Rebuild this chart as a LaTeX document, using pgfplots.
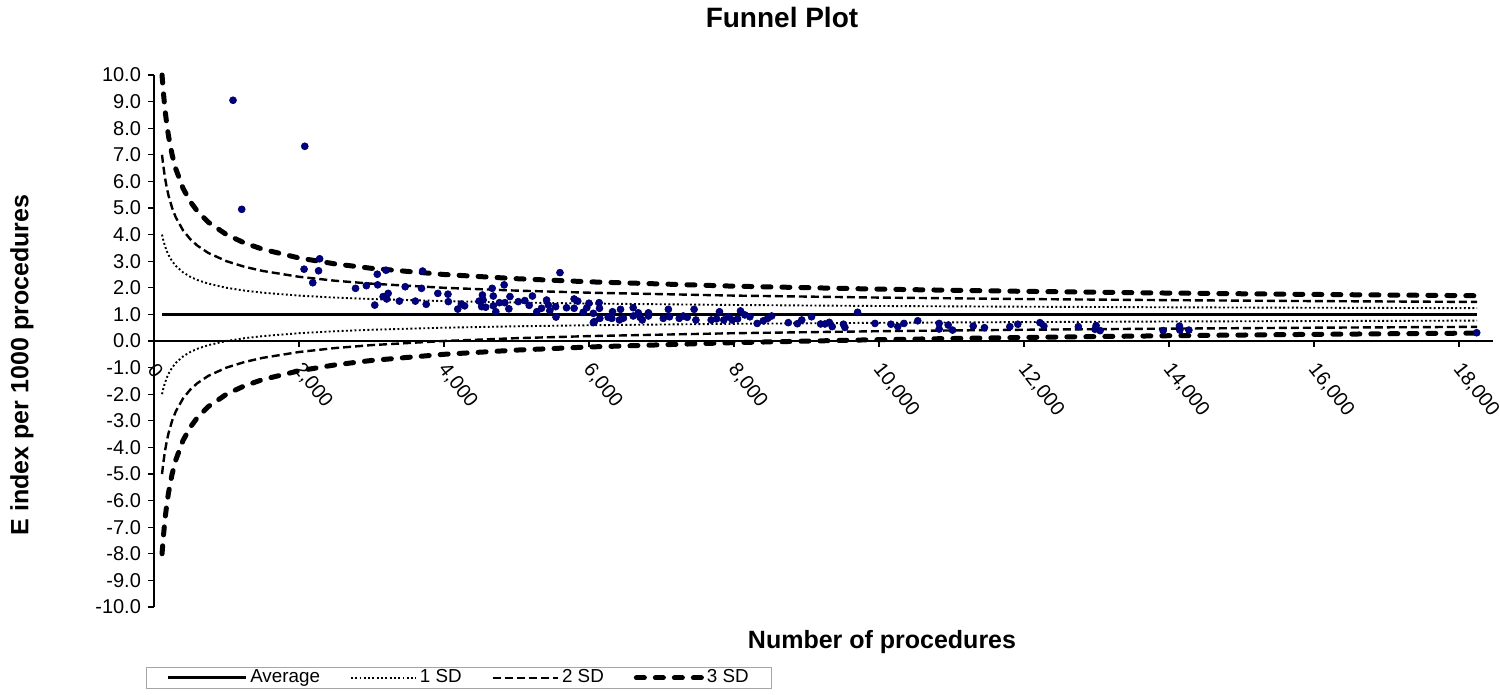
\documentclass[border=0pt]{standalone}
\usepackage{pgfplots}
\pgfplotsset{compat=1.18}
\usepackage{pgfplotstable}
\usepackage{fontspec}
\setmainfont{Liberation Sans}
\definecolor{navyd}{RGB}{0,0,128}

\pgfplotstableread{
n u1 l1 u2 l2 u3 l3
111 4.000 -2.000 7.000 -5.000 10.000 -8.000
125 3.828 -1.828 6.657 -4.657 9.485 -7.485
150 3.582 -1.582 6.164 -4.164 8.746 -6.746
175 3.390 -1.390 5.781 -3.781 8.171 -6.171
200 3.236 -1.236 5.472 -3.472 7.708 -5.708
250 3.000 -1.000 5.000 -3.000 7.000 -5.000
300 2.826 -0.826 4.651 -2.651 6.477 -4.477
400 2.581 -0.581 4.162 -2.162 5.743 -3.743
500 2.414 -0.414 3.828 -1.828 5.243 -3.243
600 2.291 -0.291 3.582 -1.582 4.873 -2.873
750 2.155 -0.155 3.309 -1.309 4.464 -2.464
1000 2.000 0.000 3.000 -1.000 4.000 -2.000
1250 1.894 0.106 2.789 -0.789 3.683 -1.683
1500 1.816 0.184 2.633 -0.633 3.449 -1.449
2000 1.707 0.293 2.414 -0.414 3.121 -1.121
2500 1.632 0.368 2.265 -0.265 2.897 -0.897
3000 1.577 0.423 2.155 -0.155 2.732 -0.732
4000 1.500 0.500 2.000 0.000 2.500 -0.500
5000 1.447 0.553 1.894 0.106 2.342 -0.342
6000 1.408 0.592 1.816 0.184 2.225 -0.225
8000 1.354 0.646 1.707 0.293 2.061 -0.061
10000 1.316 0.684 1.632 0.368 1.949 0.051
12000 1.289 0.711 1.577 0.423 1.866 0.134
14000 1.267 0.733 1.535 0.465 1.802 0.198
16000 1.250 0.750 1.500 0.500 1.750 0.250
18250 1.234 0.766 1.468 0.532 1.702 0.298
}\sdtable

\pgfplotstableread{
x y
1090 9.05
1210 4.95
2080 7.32
2070 2.70
2270 2.64
2190 2.19
2285 3.09
2780 1.98
2930 2.08
3080 2.51
3200 2.66
3085 2.11
3160 1.67
3230 1.79
3210 1.58
3045 1.35
3385 1.50
3465 2.04
3605 1.50
3690 1.98
3705 2.63
3755 1.38
3915 1.79
4055 1.76
4060 1.48
4190 1.20
4240 1.39
4285 1.32
4485 1.50
4530 1.73
4540 1.54
4520 1.29
4575 1.27
4665 1.98
4680 1.69
4680 1.32
4715 1.10
4765 1.44
4830 2.11
4840 1.44
4895 1.21
4910 1.67
5025 1.48
5115 1.52
5175 1.34
5220 1.69
5280 1.10
5345 1.23
5415 1.54
5440 1.35
5460 1.14
5540 1.29
5545 0.90
5600 2.57
5690 1.25
5795 1.58
5795 1.23
5845 1.50
5920 1.08
5970 1.25
6000 1.42
6060 0.69
6060 1.04
6075 0.73
6140 1.44
6145 1.23
6150 0.85
6265 0.89
6325 1.10
6315 0.85
6420 0.79
6435 1.19
6475 0.86
6610 1.25
6610 0.94
6680 1.06
6705 0.89
6735 0.79
6820 1.06
6820 0.94
7025 0.85
7095 1.19
7110 0.91
7245 0.85
7300 0.94
7355 0.89
7450 1.19
7475 0.79
7685 0.79
7760 0.83
7800 1.10
7860 0.79
7920 0.91
7975 0.79
8050 0.83
8090 1.13
8150 0.98
8220 0.91
8320 0.66
8405 0.76
8465 0.85
8520 0.94
8750 0.69
8875 0.65
8935 0.79
9070 0.91
9195 0.64
9255 0.64
9315 0.70
9355 0.54
9510 0.63
9530 0.51
9705 1.08
9945 0.66
10165 0.63
10260 0.54
10345 0.66
10535 0.76
10830 0.66
10830 0.45
10955 0.60
11015 0.41
11300 0.56
11455 0.50
11805 0.54
11915 0.63
12220 0.69
12275 0.56
12750 0.54
12995 0.58
12980 0.44
13050 0.39
13920 0.39
14145 0.56
14150 0.41
14275 0.41
18245 0.31
}\pts

\begin{document}
\begin{tikzpicture}
\useasboundingbox (-77pt,-44pt) rectangle (673pt,303.5pt);
\begin{axis}[
  scale only axis, width=669.5pt, height=266pt,
  xmin=0, xmax=18470, ymin=-10, ymax=10,
  axis x line=middle, axis y line=left,
  axis line style={-, line width=0.75pt},
  hide obscured x ticks=false, hide obscured y ticks=false,
  clip=false,
  xtick={0,2000,...,18000}, ytick={-10,-9,...,10},
  tick align=outside, major tick length=3pt,
  tick style={black, line width=0.6pt},
  scaled x ticks=false,
  /pgf/number format/assume math mode=true,
  xticklabel style={font=\fontsize{10}{12}\selectfont, xshift=-3pt, yshift=-6.6pt, rotate=-52, anchor=west, /pgf/number format/1000 sep={,}},
  yticklabel style={font=\fontsize{10}{12}\selectfont, /pgf/number format/.cd, fixed, fixed zerofill, precision=1},
  title={Funnel Plot},
  title style={at={(axis description cs:0.469,1.0864)}, anchor=center, font=\fontsize{14}{16}\selectfont\bfseries},
  xlabel={Number of procedures},
  xlabel style={at={(axis description cs:0.5437,-0.0658)}, anchor=center, font=\fontsize{12.5}{14}\selectfont\bfseries},
  ylabel={E index per 1000 procedures},
  ylabel style={at={(axis description cs:-0.0986,0.455)}, anchor=center, font=\fontsize{12.5}{14}\selectfont\bfseries},
  legend style={at={(axis description cs:0,0)}, anchor=north west, xshift=-4pt, yshift=-30pt,
    draw=gray!70, line width=0.5pt, font=\fontsize{9.4}{11}\selectfont,
    inner ysep=0.8pt, inner xsep=10pt,
    nodes={inner ysep=0.3pt, inner xsep=1.5pt},
    /tikz/every even column/.append style={column sep=13.5pt}},
  legend columns=4,
  legend image code/.code={\draw[#1] (0pt,0pt) -- (32.5pt,0pt);},
]
\addplot[black, line width=1.4pt, legend image code/.code={\path (0pt,0pt) -- (6.5pt,0pt);\draw[black, line width=1.4pt] (6.5pt,0pt) -- (39pt,0pt);}] coordinates {(111,1) (18250,1)};
\addlegendentry{Average}
\addplot[black, line width=0.95pt, dash pattern=on 0.95pt off 1.2pt] table[x=n,y=u1] {\sdtable};
\addlegendentry{1 SD}
\addplot[black, line width=1.2pt, dash pattern=on 4pt off 2pt] table[x=n,y=u2] {\sdtable};
\addlegendentry{2 SD}
\addplot[black, line width=2.5pt, line cap=round, dash pattern=on 4pt off 5.5pt] table[x=n,y=u3] {\sdtable};
\addlegendentry{3 SD}
\addplot[black, line width=0.95pt, dash pattern=on 0.95pt off 1.2pt, forget plot] table[x=n,y=l1] {\sdtable};
\addplot[black, line width=1.2pt, dash pattern=on 4pt off 2pt, forget plot] table[x=n,y=l2] {\sdtable};
\addplot[black, line width=2.5pt, line cap=round, dash pattern=on 4pt off 5.5pt, forget plot] table[x=n,y=l3] {\sdtable};
\addplot[only marks, mark=*, mark size=1.75pt, mark options={fill=navyd, draw=navyd!80!black, line width=0.3pt}, forget plot] table[x=x,y=y] {\pts};
\end{axis}
\end{tikzpicture}
\end{document}
